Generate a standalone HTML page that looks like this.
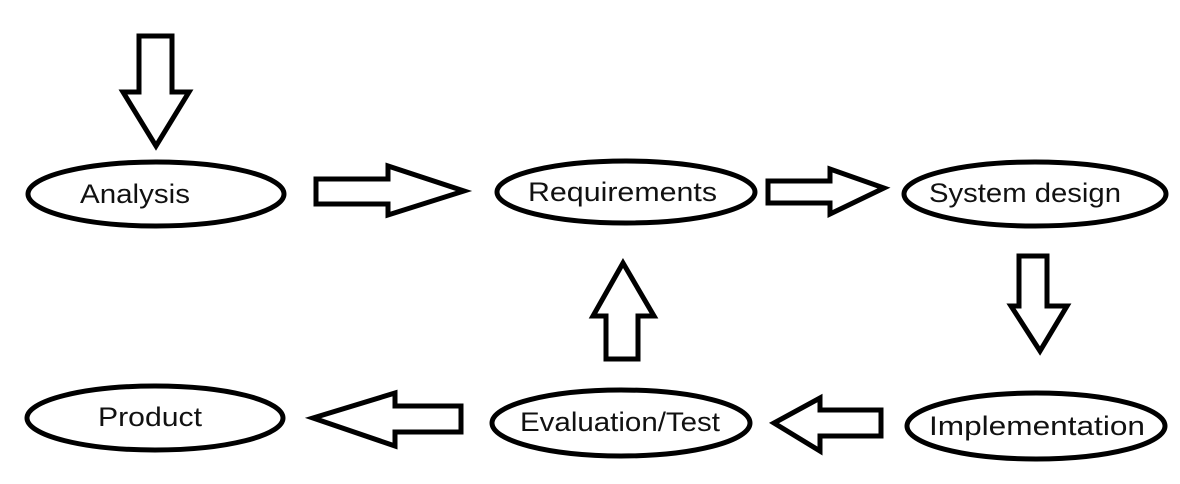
<!DOCTYPE html>
<html><head><style>
html,body{margin:0;padding:0;background:#fff;}
svg{display:block;}
text{font-family:"Liberation Sans",sans-serif;font-size:27px;fill:#111;}
</style></head><body>
<svg width="1180" height="484" viewBox="0 0 1180 484">
<g fill="none" stroke="#000" stroke-width="5" stroke-linejoin="miter">
<ellipse cx="156" cy="194" rx="128" ry="32"/>
<ellipse cx="626" cy="192" rx="129" ry="31"/>
<ellipse cx="1035" cy="194" rx="131" ry="32"/>
<ellipse cx="1036" cy="426" rx="129" ry="33"/>
<ellipse cx="621" cy="423" rx="129" ry="33"/>
<ellipse cx="155" cy="418" rx="128" ry="32"/>
<polygon points="139,36 172,36 172,92 189,92 156,146 123,92 139,92"/>
<polygon points="316,179 388,179 388,166 464,191 388,215 388,204 316,204"/>
<polygon points="768,181 830,181 830,169 884,188 830,214 830,203 768,203"/>
<polygon points="1019,256 1047,256 1047,306 1067,306 1040,351 1011,306 1019,306"/>
<polygon points="606,359 638,359 638,316 654,316 623,263 593,316 606,316"/>
<polygon points="881,410 881,436 820,436 820,451 774,423 820,398 820,410"/>
<polygon points="461,406 461,432 395,432 395,446 313,418 395,393 395,406"/>
</g>
<text x="80" y="203" textLength="110" lengthAdjust="spacingAndGlyphs">Analysis</text>
<text x="528" y="201" textLength="189" lengthAdjust="spacingAndGlyphs">Requirements</text>
<text x="929" y="202" textLength="192" lengthAdjust="spacingAndGlyphs">System design</text>
<text x="929" y="435" textLength="216" lengthAdjust="spacingAndGlyphs">Implementation</text>
<text x="520" y="431" textLength="200" lengthAdjust="spacingAndGlyphs">Evaluation/Test</text>
<text x="98" y="426" textLength="104" lengthAdjust="spacingAndGlyphs">Product</text>
</svg>
</body></html>
